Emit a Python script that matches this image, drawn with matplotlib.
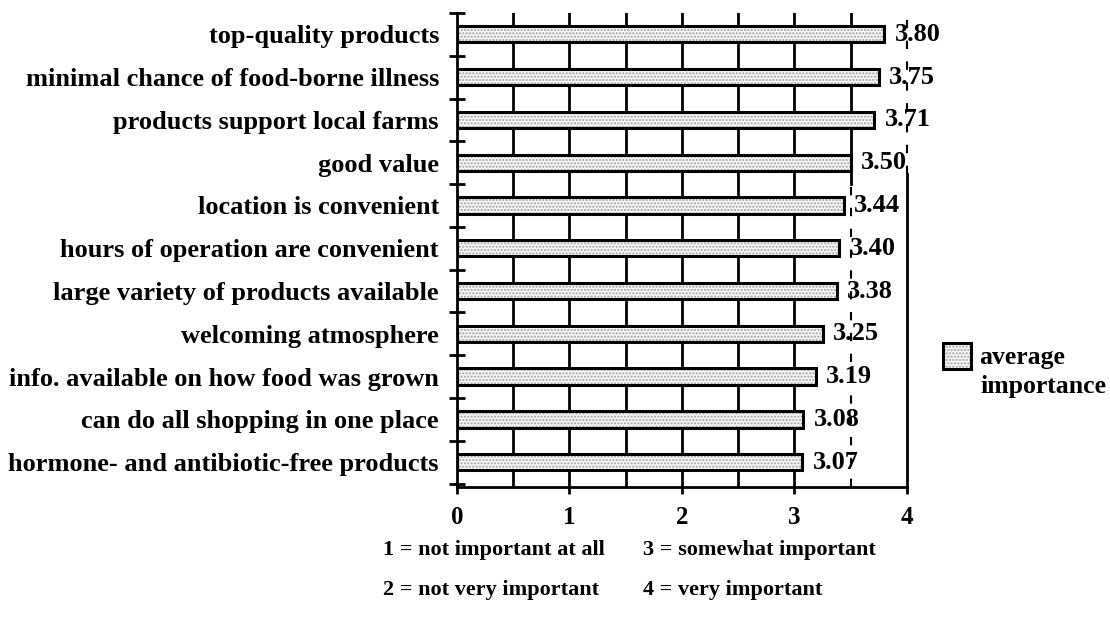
import matplotlib
matplotlib.use('Agg')
import matplotlib.pyplot as plt

plt.rcParams['font.family'] = 'Liberation Serif'
plt.rcParams['font.weight'] = 'bold'
plt.rcParams['hatch.linewidth'] = 1.0

# Data
categories = [
    'top-quality products',
    'minimal chance of food-borne illness',
    'products support local farms',
    'good value',
    'location is convenient',
    'hours of operation are convenient',
    'large variety of products available',
    'welcoming atmosphere',
    'info. available on how food was grown',
    'can do all shopping in one place',
    'hormone- and antibiotic-free products',
]
values = [3.80, 3.75, 3.71, 3.50, 3.44, 3.40, 3.38, 3.25, 3.19, 3.08, 3.07]
value_labels = ['3.80', '3.75', '3.71', '3.50', '3.44', '3.40', '3.38', '3.25', '3.19', '3.08', '3.07']
series_name = ['average', 'importance']
x_ticks = [0, 1, 2, 3, 4]
scale_notes = [
    '1 = not important at all', '3 = somewhat important',
    '2 = not very important', '4 = very important',
]

fig = plt.figure(figsize=(11.1, 6.18), dpi=100)
ax = fig.add_axes([0.4117, 0.212, 0.4054, 0.767])

y = list(range(len(categories)))

# gridlines every 0.5
for gx in [0.5, 1, 1.5, 2, 2.5, 3]:
    ax.axvline(gx, color='black', lw=2, zorder=1)
# 3.5 line: solid at top, broken lower down; 4 line: broken at top, solid lower down
ax.axvline(3.5, ymin=0.64, ymax=1, color='black', lw=2, zorder=1)
ax.axvline(3.5, ymin=0, ymax=0.64, color='black', lw=1.5, ls=(0, (4, 6)), zorder=1)
ax.axvline(4, ymin=0.66, ymax=1, color='black', lw=1.5, ls=(0, (4, 6)),
           zorder=1, clip_on=False)
ax.axvline(4, ymin=0, ymax=0.66, color='black', lw=2, zorder=1, clip_on=False)

fill = ax.barh(y, values, height=0.38, color='#f6f6f6', hatch='.....',
               edgecolor='#a0a0a0', lw=0, zorder=2)
outline = ax.barh(y, values, height=0.38, fill=False, edgecolor='black',
                  lw=2.2, zorder=3)

for yi, v, lab in zip(y, values, value_labels):
    ax.text(v + 0.09, yi, lab, va='center', ha='left', fontsize=19,
            fontweight='bold')

ax.set_xlim(0, 4)
ax.set_ylim(10.58, -0.5)
ax.set_xticks(x_ticks)
ax.set_xticklabels([str(t) for t in x_ticks], fontsize=18, fontweight='bold')
ax.tick_params(axis='x', direction='out', length=5, width=2, pad=9)

ax.set_yticks(y)
ax.set_yticklabels(categories, fontsize=19, fontweight='bold')
ax.set_yticks([i - 0.5 for i in range(len(categories) + 1)], minor=True)
ax.tick_params(axis='y', which='major', length=0, pad=13)
ax.tick_params(axis='y', which='minor', direction='inout', length=12, width=2)

ax.spines['top'].set_visible(False)
ax.spines['right'].set_visible(False)
ax.spines['left'].set_linewidth(2)
ax.spines['bottom'].set_linewidth(2)

# legend: patch beside the first word, second word on the next line
leg = fig.legend([(fill, outline)], [series_name[0]], loc='upper left',
                 bbox_to_anchor=(943 / 1110, 1 - 343 / 618), frameon=False,
                 fontsize=18.5, handlelength=1.1, handleheight=1.15,
                 handletextpad=0.3, borderpad=0, borderaxespad=0)
for t in leg.get_texts():
    t.set_fontweight('bold')
fig.text(980 / 1110, 1 - 387 / 618, series_name[1], fontsize=18.5,
         fontweight='bold', va='center', ha='left')

fig.text(383 / 1110, 1 - 550 / 618, scale_notes[0], fontsize=16, va='center')
fig.text(643 / 1110, 1 - 550 / 618, scale_notes[1], fontsize=16, va='center')
fig.text(383 / 1110, 1 - 590 / 618, scale_notes[2], fontsize=16, va='center')
fig.text(643 / 1110, 1 - 590 / 618, scale_notes[3], fontsize=16, va='center')

fig.savefig('out.png', dpi=100)
